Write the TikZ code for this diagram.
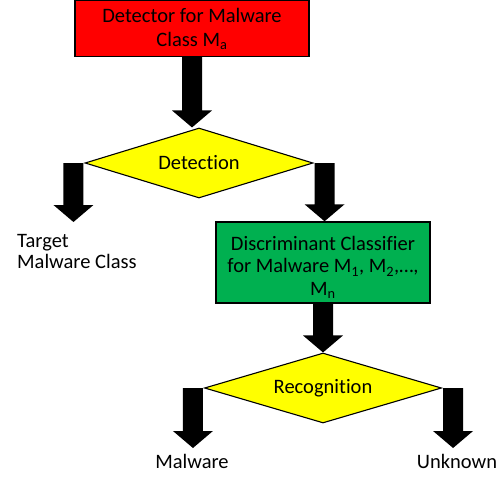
\documentclass[tikz,border=0pt]{standalone}
\usepackage{fontspec}
\setmainfont{Carlito}[Ligatures=NoCommon]
\usetikzlibrary{shapes.geometric,calc}

\definecolor{boxred}{HTML}{FF0000}
\definecolor{boxgreen}{HTML}{00B050}
\definecolor{decyellow}{HTML}{FFFF00}

% Thick block arrow pointing down, from the first point to the level of the second
\newcommand{\blockarrow}[2]{%
  \fill[black] let \p1=(#1), \p2=(#2) in
    (\x1-10pt,\y1) -- (\x1+10pt,\y1) -- (\x1+10pt,\y2+17pt) -- (\x1+20pt,\y2+17pt)
    -- (\x1,\y2) -- (\x1-20pt,\y2+17pt) -- (\x1-10pt,\y2+17pt) -- cycle;}

\tikzset{
  stagebox/.style={draw=black, line width=1.4pt, inner sep=0pt, align=center,
    font=\fontsize{20.5}{24}\selectfont},
  decision/.style={draw=black, line width=1.1pt, fill=decyellow, shape=diamond,
    aspect=3.3, inner sep=0pt, font=\fontsize{20.5}{24}\selectfont},
  outlabel/.style={inner sep=0pt, font=\fontsize{20.5}{21}\selectfont},
}

\begin{document}
\begin{tikzpicture}[x=1pt,y=-1pt]
\useasboundingbox (0,0) rectangle (500,476);

% stages
\node[stagebox, fill=boxred, minimum width=234pt, minimum height=56pt]
  (detector) at (192,28.5) {Detector for Malware\\Class M\textsubscript{a}};
\node[decision, minimum width=228pt, minimum height=70pt]
  (detection) at (199,163) {Detection};
\node[stagebox, fill=boxgreen, minimum width=214pt, minimum height=81pt,
  font=\fontsize{20.5}{22.5}\selectfont]
  (classifier) at (323,262.5)
  {\rule{0pt}{24pt}Discriminant Classifier\\for Malware M\textsubscript{1}, M\textsubscript{2},\ldots,\\M\textsubscript{n}};
\node[decision, minimum width=237pt, minimum height=70pt]
  (recognition) at (323,388) {Recognition};

% outcome labels
\node[outlabel, anchor=base west, align=left] (target) at (17,268) {Target\\Malware Class};
\node[outlabel, anchor=base] (malware) at (192,468) {Malware};
\node[outlabel, anchor=base] (unknown) at (457,468) {Unknown};

% arrow end points
\coordinate (detL) at ([xshift=-11pt]detection.west);
\coordinate (detR) at ([xshift=11pt]detection.east);
\coordinate (recL) at ([xshift=-11pt]recognition.west);
\coordinate (recR) at ([xshift=11pt]recognition.east);
\coordinate (targetTip) at (73,222);
\coordinate (malwareTip) at (194,448);
\coordinate (unknownTip) at (453,448);

% block arrows
\blockarrow{detector.south}{detection.north}
\blockarrow{detL}{targetTip}
\blockarrow{detR}{classifier.north}
\blockarrow{classifier.south}{recognition.north}
\blockarrow{recL}{malwareTip}
\blockarrow{recR}{unknownTip}
\end{tikzpicture}
\end{document}
